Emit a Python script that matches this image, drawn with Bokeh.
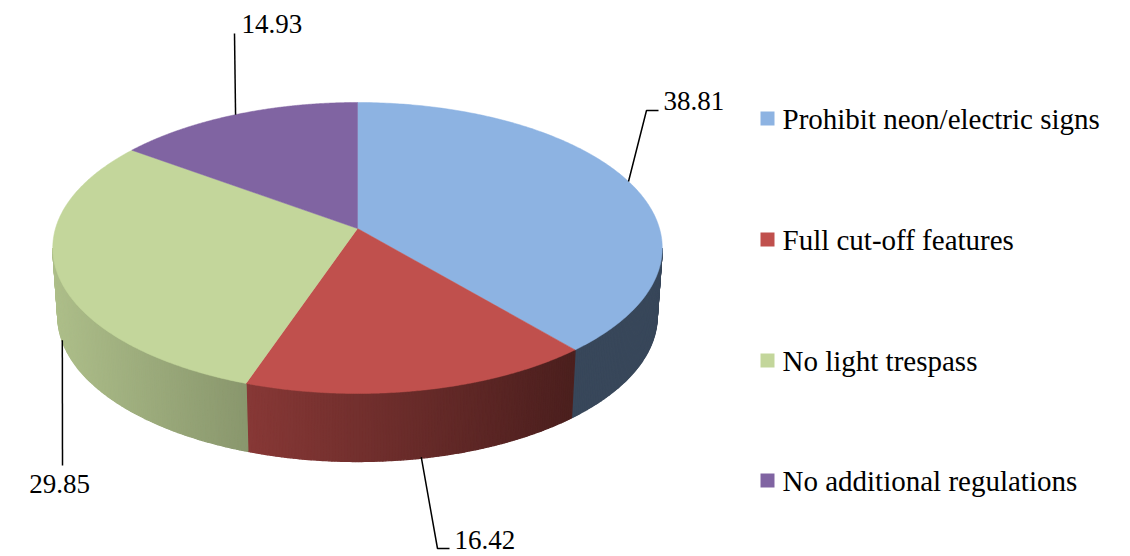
import numpy as np
from bokeh.plotting import figure
from bokeh.models import Range1d, ColumnDataSource
from bokeh.embed import file_html
from bokeh.resources import INLINE

# ---- data ----
categories = ["Prohibit neon/electric signs", "Full cut-off features",
              "No light trespass", "No additional regulations"]
values = [38.81, 16.42, 29.85, 14.93]
colors = ["#8DB3E2", "#C0504D", "#C3D69B", "#8064A2"]

# ---- layout constants (page pixel coords) ----
W, H = 1130, 556
CX, CY, S, T, K = 357.0, 228.0, 302.0, 142.9, -0.134
SB, DEPTH = 297.0, 68.0
FONT = "Liberation Serif"

p = figure(width=W, height=H, x_range=Range1d(0, W), y_range=Range1d(H, 0),
           output_backend="svg", toolbar_location=None,
           x_axis_type=None, y_axis_type=None, min_border=0)
p.grid.visible = False
p.outline_line_color = None
p.background_fill_color = "white"
p.border_fill_color = "white"


def top(th):
    t = np.radians(th)
    X, Z = np.sin(t), -np.cos(t)
    d = 1 + K * Z
    return CX + S * X / d, CY + T * Z / d


def bot(th):
    t = np.radians(th)
    X, Z = np.sin(t), -np.cos(t)
    d = 1 + K * Z
    return CX + SB * X / d, CY + DEPTH + T * Z / d


def hex2rgb(h):
    return tuple(int(h[i:i + 2], 16) for i in (1, 3, 5))


def shade(h, r):
    c = hex2rgb(h)
    return "#%02x%02x%02x" % tuple(int(max(0, min(255, v * r))) for v in c)


total = sum(values)
angles = np.cumsum([0] + [v / total * 360 for v in values])
VIS_L, VIS_R = 97.7, 262.3
XL, XR = CX - 305, CX + 305

# ---- side walls (shaded strips) ----
sx, sy, sc = [], [], []
for i, col in enumerate(colors):
    a0, a1 = max(angles[i], VIS_L), min(angles[i + 1], VIS_R)
    if a1 <= a0:
        continue
    n = max(2, int((a1 - a0) / 0.5))
    ths = np.linspace(a0, a1, n + 1)
    for a, b in zip(ths[:-1], ths[1:]):
        tx0, ty0 = top(a)
        tx1, ty1 = top(b)
        bx0, by0 = bot(a)
        bx1, by1 = bot(b)
        sx.append([tx0, tx1, bx1, bx0])
        sy.append([ty0, ty1, by1, by0])
        f = ((tx0 + tx1) / 2 - XL) / (XR - XL)
        sc.append(shade(col, max(0.89 - 0.58 * f, 0.40)))
p.patches(sx, sy, fill_color=sc, line_color=sc, line_width=1.3)

# ---- top faces ----
txs, tys = [], []
for i in range(len(values)):
    ths = np.linspace(angles[i], angles[i + 1], 200)
    x, y = top(ths)
    txs.append([CX] + list(x))
    tys.append([CY] + list(y))
p.patches(txs, tys, fill_color=colors, line_color=colors, line_width=0.5)

# ---- data labels with leader lines ----
mids = (angles[:-1] + angles[1:]) / 2
anchors = []
for m in mids:
    if VIS_L < m < VIS_R:
        bx, by = bot(m)
        anchors.append((float(bx), float(by) - 1))
    else:
        tx, ty = top(m)
        anchors.append((float(tx), float(ty)))

elbows = [[(646, 110), (658, 110)], [(437, 548), (449, 548)], [(62, 465)], [(234, 33)]]
lx, ly = [], []
for (ax, ay), el in zip(anchors, elbows):
    lx.append([ax] + [e[0] for e in el])
    ly.append([ay] + [e[1] for e in el])
p.multi_line(lx, ly, line_color="black", line_width=1.5)

lab_src = ColumnDataSource(dict(
    x=[663, 454, 59, 241], y=[100, 539, 483, 23],
    text=["%.2f" % v for v in values],
    align=["left", "left", "center", "left"],
    font=[FONT] * 4))
p.text(x="x", y="y", text="text", text_align="align", text_font="font",
       text_baseline="middle", text_font_size="27px", text_color="black", source=lab_src)

# ---- legend ----
leg_y = [118, 239, 360, 480]
p.rect(x=[767] * 4, y=leg_y, width=14, height=14, fill_color=colors, line_color=None)
leg_src = ColumnDataSource(dict(x=[782] * 4, y=leg_y, text=categories, font=[FONT] * 4))
p.text(x="x", y="y", text="text", text_font="font", text_align="left", text_baseline="middle",
       text_font_size="29px", text_color="black", source=leg_src)

open("out.html", "w").write(file_html(p, INLINE))
